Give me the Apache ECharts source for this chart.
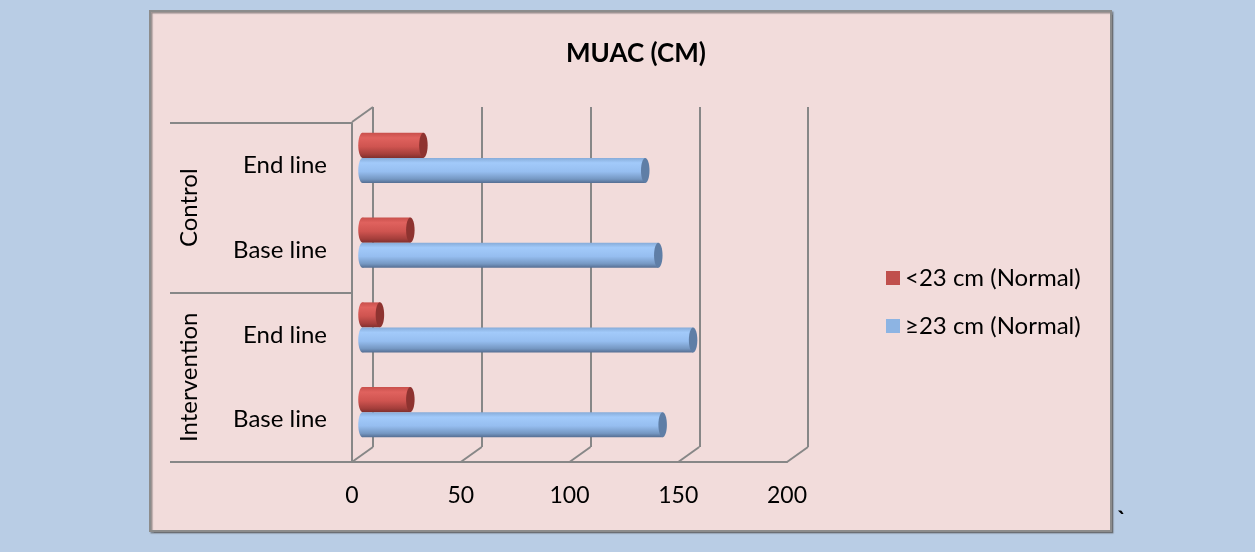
<!DOCTYPE html>
<html>
<head>
<meta charset="utf-8">
<script src="https://cdn.jsdelivr.net/npm/echarts@6/dist/echarts.min.js"></script>
<style>
  html, body { margin: 0; padding: 0; background: #b9cde5; }
  #chart { width: 1255px; height: 552px; }
</style>
</head>
<body>
<div id="chart"></div>
<script>
// MUAC (cm) distribution by study arm and survey round
const groups = ['Intervention', 'Control'];
const rounds = ['Base line', 'End line', 'Base line', 'End line'];   // bottom to top
const seriesNames = ['<23 cm (Normal)', '\u226523 cm (Normal)'];
const below23 = [22, 8, 22, 28];
const atOrAbove23 = [138, 152, 136, 130];
const xTicks = [0, 50, 100, 150, 200];

const FONT = 'Lato';
const GRID_GRAY = '#878787';

// depth of the pseudo-3D box (back wall sits up and to the right of the front)
const DEPTH_X = 21, DEPTH_Y = 15;

const chart = echarts.init(document.getElementById('chart'), null, { renderer: 'canvas' });

function cylinder(kind) {
  const isRed = kind === 0;
  const body = isRed
    ? new echarts.graphic.LinearGradient(0, 0, 0, 1, [
        { offset: 0, color: '#c9504c' },
        { offset: 0.2, color: '#e0625e' },
        { offset: 0.55, color: '#cf5450' },
        { offset: 0.85, color: '#a43e3b' },
        { offset: 1, color: '#80302e' }
      ])
    : new echarts.graphic.LinearGradient(0, 0, 0, 1, [
        { offset: 0, color: '#86abd8' },
        { offset: 0.2, color: '#a2cafa' },
        { offset: 0.55, color: '#96bef0' },
        { offset: 0.85, color: '#7597c2' },
        { offset: 1, color: '#566f93' }
      ]);
  const cap = isRed ? '#8e3330' : '#5f7ea6';
  return function (params, api) {
    const v = api.value(0);
    const c = api.value(1);
    const p0 = api.coord([0, c]);
    const p1 = api.coord([v, c]);
    const band = api.size([0, 1])[1];
    const h = band * 0.295;
    const yTop = isRed ? p0[1] - h : p0[1];
    const rx = h * 0.17, ry = h / 2, cy = yTop + ry;
    return {
      type: 'group',
      children: [
        { type: 'ellipse', shape: { cx: p0[0], cy: cy, rx: rx, ry: ry }, style: { fill: body } },
        { type: 'rect', shape: { x: p0[0], y: yTop, width: p1[0] - p0[0], height: h }, style: { fill: body } },
        { type: 'ellipse', shape: { cx: p1[0], cy: cy, rx: rx, ry: ry }, style: { fill: cap } }
      ]
    };
  };
}

const option = {
  backgroundColor: '#b9cde5',
  animation: false,
  textStyle: { fontFamily: FONT },
  graphic: [
    {
      type: 'rect', z: -10, silent: true,
      shape: { x: 150, y: 11, width: 961, height: 520 },
      style: { fill: '#f2dcdb', stroke: '#8c8c8c', lineWidth: 2,
               shadowColor: 'rgba(90,90,90,0.6)', shadowOffsetX: 1.5, shadowOffsetY: 1.5, shadowBlur: 1 }
    },
    {
      type: 'text', left: 1117, top: 509,
      style: { text: '`', font: 'bold 24px ' + FONT, fill: '#000' }
    }
  ],
  title: {
    text: 'MUAC (CM)',
    left: 631, top: 36, textAlign: 'center',
    textStyle: { fontFamily: FONT, fontWeight: 'bold', fontSize: 26, color: '#000' }
  },
  legend: {
    orient: 'vertical',
    left: 881, top: 261,
    itemWidth: 14, itemHeight: 14, itemGap: 24,
    icon: 'rect',
    textStyle: { fontFamily: FONT, fontSize: 24, color: '#000' },
    data: [
      { name: seriesNames[0], itemStyle: { color: '#c0504d' } },
      { name: seriesNames[1], itemStyle: { color: '#8db4e3' } }
    ]
  },
  grid: [
    // back wall
    { left: 352 + DEPTH_X, top: 123 - DEPTH_Y - 1, width: 435, height: 340 },
    // front plane (labels, floor edge, side wall)
    { left: 352, top: 123, width: 435, height: 339 },
    // bars, halfway into the depth
    { left: 352 + DEPTH_X / 2, top: 123 - DEPTH_Y / 2, width: 435, height: 339 }
  ],
  xAxis: [
    {
      gridIndex: 0, type: 'value', min: 0, max: 200, interval: 50,
      axisLine: { show: false }, axisTick: { show: false }, axisLabel: { show: false },
      splitLine: { show: true, lineStyle: { color: GRID_GRAY, width: 2 } }
    },
    {
      gridIndex: 1, type: 'value', min: 0, max: 200, interval: 50,
      axisLine: { show: true, onZero: false, lineStyle: { color: GRID_GRAY, width: 2 } },
      axisTick: { show: false }, splitLine: { show: false },
      axisLabel: { margin: 22, fontSize: 23, color: '#000', fontFamily: FONT }
    },
    {
      gridIndex: 2, type: 'value', min: 0, max: 200, show: false
    }
  ],
  yAxis: [
    {
      gridIndex: 1, type: 'category', data: rounds,
      axisLine: { show: true, onZero: false, lineStyle: { color: GRID_GRAY, width: 2 } },
      axisTick: { show: false },
      axisLabel: { margin: 25, fontSize: 24, color: '#000', fontFamily: FONT }
    },
    {
      gridIndex: 1, type: 'category', data: groups, position: 'left',
      axisLine: { show: false },
      axisTick: { show: true, length: 182, lineStyle: { color: GRID_GRAY, width: 2 } },
      axisLabel: { rotate: 90, margin: 151, fontSize: 24, color: '#000', fontFamily: FONT }
    },
    {
      gridIndex: 0, type: 'value', min: 0, max: 1, show: false
    },
    {
      gridIndex: 2, type: 'category', data: rounds, show: false
    }
  ],
  series: [
    {
      // floor diagonals and the side-wall top edge of the 3D box
      name: 'frame', type: 'custom', xAxisIndex: 0, yAxisIndex: 2, z: 1, silent: true,
      data: xTicks.map(v => [v]),
      renderItem: function (params, api) {
        const v = api.value(0);
        const b = api.coord([v, 0]);
        const kids = [{
          type: 'line',
          shape: { x1: b[0], y1: b[1], x2: b[0] - DEPTH_X, y2: b[1] + DEPTH_Y },
          style: { stroke: GRID_GRAY, lineWidth: 2 }
        }];
        if (v === 0) {
          const t = api.coord([0, 1]);
          kids.push({
            type: 'line',
            shape: { x1: t[0], y1: t[1], x2: t[0] - DEPTH_X, y2: t[1] + DEPTH_Y },
            style: { stroke: GRID_GRAY, lineWidth: 2 }
          });
        }
        return { type: 'group', children: kids };
      }
    },
    {
      name: seriesNames[0], type: 'custom', xAxisIndex: 2, yAxisIndex: 3, z: 3,
      itemStyle: { color: '#c0504d' },
      data: below23.map((v, i) => [v, i]),
      renderItem: cylinder(0)
    },
    {
      name: seriesNames[1], type: 'custom', xAxisIndex: 2, yAxisIndex: 3, z: 3,
      itemStyle: { color: '#8db4e3' },
      data: atOrAbove23.map((v, i) => [v, i]),
      renderItem: cylinder(1)
    }
  ]
};

chart.setOption(option);
</script>
</body>
</html>
